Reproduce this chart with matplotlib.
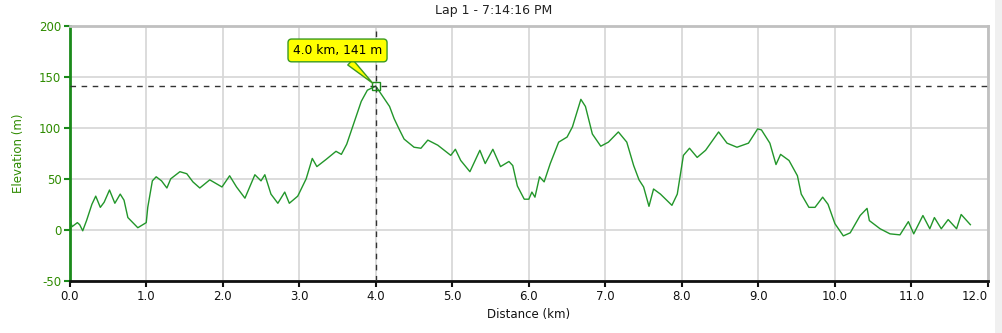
import numpy as np
import matplotlib.pyplot as plt
from matplotlib.patches import Rectangle

plt.rcParams['axes.unicode_minus'] = False

# distance (km) and elevation (m)
dist = [0.00, 0.03, 0.10, 0.13, 0.17, 0.22, 0.29, 0.34, 0.40, 0.45, 0.52, 0.59, 0.66, 0.71, 0.76, 0.89,
        1.00, 1.02, 1.08, 1.13, 1.20, 1.27, 1.32, 1.44, 1.53, 1.61, 1.70, 1.83, 1.99,
        2.09, 2.18, 2.29, 2.42, 2.50, 2.55, 2.63, 2.72, 2.81, 2.87, 2.98,
        3.09, 3.17, 3.23, 3.35, 3.48, 3.55, 3.62, 3.71, 3.81, 3.89,
        4.00, 4.18, 4.24, 4.31, 4.37, 4.50, 4.59, 4.68, 4.81, 4.98,
        5.04, 5.11, 5.23, 5.36, 5.43, 5.53, 5.63, 5.74, 5.79, 5.85, 5.94,
        6.00, 6.04, 6.08, 6.14, 6.20, 6.28, 6.39, 6.50, 6.57, 6.68, 6.74, 6.83, 6.94,
        7.04, 7.17, 7.28, 7.37, 7.44, 7.50, 7.57, 7.63, 7.72, 7.87, 7.94,
        8.02, 8.10, 8.20, 8.31, 8.48, 8.59, 8.72, 8.87, 8.99,
        9.04, 9.15, 9.23, 9.29, 9.40, 9.51, 9.56, 9.66, 9.74, 9.84, 9.91,
        10.00, 10.11, 10.20, 10.33, 10.42, 10.45, 10.59, 10.72, 10.85, 10.96,
        11.03, 11.15, 11.24, 11.30, 11.39, 11.48, 11.59, 11.65, 11.77]
elev = [12, 3, 7, 5, -1, 9, 25, 33, 22, 27, 39, 26, 35, 29, 12, 2,
        7, 22, 48, 52, 48, 41, 50, 57, 55, 47, 41, 49, 42,
        53, 42, 31, 54, 48, 54, 35, 26, 37, 26, 33,
        50, 70, 62, 69, 77, 74, 84, 104, 126, 137,
        141, 121, 109, 98, 89, 81, 80, 88, 83, 73,
        79, 68, 57, 78, 65, 79, 62, 67, 63, 43, 30,
        30, 37, 32, 52, 47, 65, 86, 91, 101, 128, 121, 94, 82,
        86, 96, 86, 63, 49, 42, 23, 40, 35, 24, 35,
        73, 80, 71, 78, 96, 85, 81, 85, 99,
        98, 85, 64, 74, 68, 53, 35, 22, 22, 32, 25,
        6, -6, -3, 14, 21, 9, 1, -4, -5, 8,
        -4, 14, 1, 12, 1, 10, 1, 15, 5]

sel_km = 4.0
sel_m = 141
title = "Lap 1 - 7:14:16 PM"

fig = plt.figure(figsize=(10.03, 3.33), dpi=100)
ax = fig.add_axes([0.0695, 0.157, 0.9155, 0.765])

ax.plot(dist, elev, color='#22962a', lw=1.0, zorder=3)

ax.set_xlim(0, 12.0)
ax.set_ylim(-50, 200)
ax.set_xticks(np.arange(0, 13, 1))
ax.set_xticklabels(['%.1f' % v for v in range(13)])
ax.set_yticks(np.arange(-50, 201, 50))
ax.grid(True, color='#d6d6d6', lw=1.2)
ax.set_axisbelow(True)

for s in ['top', 'right']:
    ax.spines[s].set_color('#c0c0c0')
    ax.spines[s].set_linewidth(2)
ax.spines['left'].set_color('#1a8a1a')
ax.spines['left'].set_linewidth(2)
ax.spines['bottom'].set_color('#111111')
ax.spines['bottom'].set_linewidth(2)

ax.tick_params(axis='y', colors='#2e8b00', labelsize=8.5, length=4, width=1.5, pad=2)
ax.tick_params(axis='y', color='#1a8a1a')
ax.tick_params(axis='x', colors='#111111', labelsize=8.5, length=4, width=1.5, pad=3)
# last x label is pushed inside so it isn't cut by the scrollbar
ax.get_xticklabels()[-1].set_horizontalalignment('right')

ax.set_xlabel('Distance (km)', fontsize=8.5, color='#111111', labelpad=3)
ax.set_ylabel('Elevation (m)', fontsize=8.5, color='#2e8b00', labelpad=10)
fig.text(0.492, 0.968, title, ha='center', va='center', fontsize=9, color='#222222')

# crosshair on selected point
ax.axvline(sel_km, color='#333333', lw=1, ls=(0, (4, 4)), zorder=4)
ax.axhline(sel_m, color='#333333', lw=1, ls=(0, (4, 4)), zorder=4)
ax.plot([sel_km], [sel_m], marker='s', ms=6, mfc='none', mec='#1a8a1a', mew=1, zorder=5)

ax.annotate('%.1f km, %d m' % (sel_km, sel_m), xy=(sel_km, sel_m), xytext=(3.5, 176),
            ha='center', va='center', fontsize=8.8, color='black', zorder=6,
            bbox=dict(boxstyle='round,pad=0.4,rounding_size=0.3', fc='#ffff00', ec='#3a9a20', lw=1),
            arrowprops=dict(arrowstyle='wedge,tail_width=0.6,shrink_factor=0.5', fc='#ffff00',
                            ec='#3a9a20', lw=1, shrinkA=0, shrinkB=3))

# scrollbar strip at the right edge
fig.patches.append(Rectangle((0.992, 0.0), 0.008, 1.0, transform=fig.transFigure,
                             fc='#f0f0f0', ec='none'))

fig.savefig('out.png', dpi=100)
